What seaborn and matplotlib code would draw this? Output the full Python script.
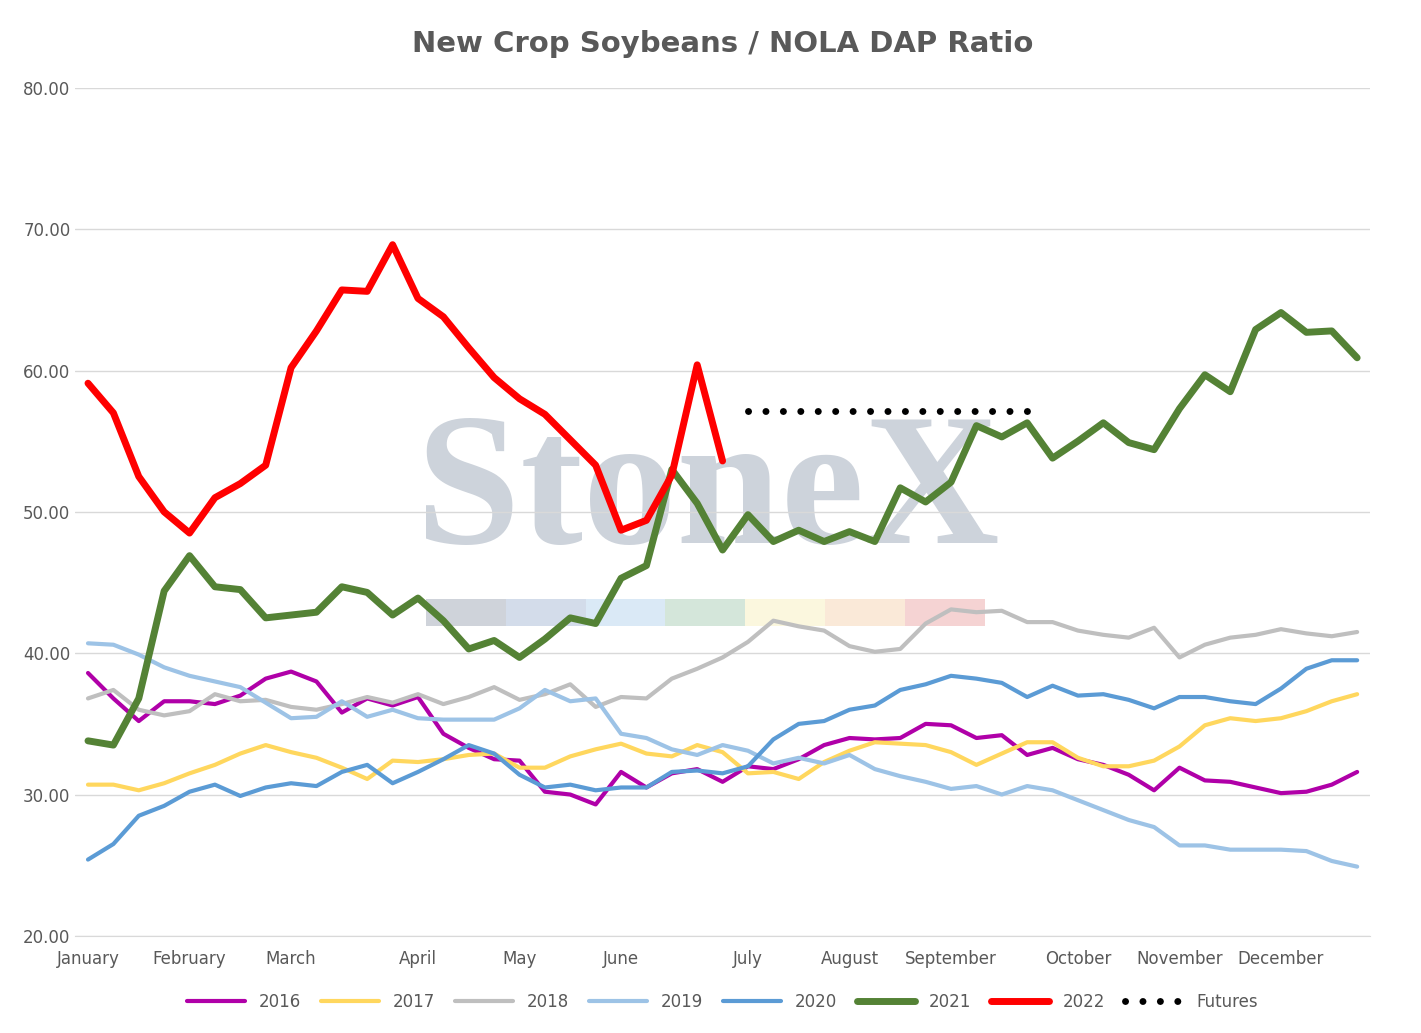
import seaborn as sns
import matplotlib.pyplot as plt
import numpy as np
from matplotlib.patches import Rectangle

sns.set_style('white')
plt.rcParams['font.family'] = ['DejaVu Sans']

data = {
    '2016': [38.6,36.8,35.2,36.6,36.6,36.4,37.0,38.2,38.7,38.0,35.8,36.8,36.3,36.9,34.3,33.3,32.5,32.4,30.2,30.0,29.3,31.6,30.5,31.5,31.8,30.9,32.0,31.8,32.5,33.5,34.0,33.9,34.0,35.0,34.9,34.0,34.2,32.8,33.3,32.5,32.1,31.4,30.3,31.9,31.0,30.9,30.5,30.1,30.2,30.7,31.6],
    '2017': [30.7,30.7,30.3,30.8,31.5,32.1,32.9,33.5,33.0,32.6,31.9,31.1,32.4,32.3,32.5,32.8,32.9,31.9,31.9,32.7,33.2,33.6,32.9,32.7,33.5,33.0,31.5,31.6,31.1,32.3,33.1,33.7,33.6,33.5,33.0,32.1,32.9,33.7,33.7,32.6,32.0,32.0,32.4,33.4,34.9,35.4,35.2,35.4,35.9,36.6,37.1],
    '2018': [36.8,37.4,36.0,35.6,35.9,37.1,36.6,36.7,36.2,36.0,36.4,36.9,36.5,37.1,36.4,36.9,37.6,36.7,37.1,37.8,36.2,36.9,36.8,38.2,38.9,39.7,40.8,42.3,41.9,41.6,40.5,40.1,40.3,42.1,43.1,42.9,43.0,42.2,42.2,41.6,41.3,41.1,41.8,39.7,40.6,41.1,41.3,41.7,41.4,41.2,41.5],
    '2019': [40.7,40.6,39.9,39.0,38.4,38.0,37.6,36.5,35.4,35.5,36.6,35.5,36.0,35.4,35.3,35.3,35.3,36.1,37.4,36.6,36.8,34.3,34.0,33.2,32.8,33.5,33.1,32.2,32.6,32.2,32.8,31.8,31.3,30.9,30.4,30.6,30.0,30.6,30.3,29.6,28.9,28.2,27.7,26.4,26.4,26.1,26.1,26.1,26.0,25.3,24.9],
    '2020': [25.4,26.5,28.5,29.2,30.2,30.7,29.9,30.5,30.8,30.6,31.6,32.1,30.8,31.6,32.5,33.5,32.9,31.4,30.5,30.7,30.3,30.5,30.5,31.6,31.7,31.5,32.0,33.9,35.0,35.2,36.0,36.3,37.4,37.8,38.4,38.2,37.9,36.9,37.7,37.0,37.1,36.7,36.1,36.9,36.9,36.6,36.4,37.5,38.9,39.5,39.5],
    '2021': [33.8,33.5,36.8,44.4,46.9,44.7,44.5,42.5,42.7,42.9,44.7,44.3,42.7,43.9,42.3,40.3,40.9,39.7,41.0,42.5,42.1,45.3,46.2,53.0,50.6,47.3,49.8,47.9,48.7,47.9,48.6,47.9,51.7,50.7,52.1,56.1,55.3,56.3,53.8,55.0,56.3,54.9,54.4,57.3,59.7,58.5,62.9,64.1,62.7,62.8,60.9],
    '2022': [59.1,57.0,52.5,50.0,48.5,51.0,52.0,53.3,60.2,62.8,65.7,65.6,68.9,65.1,63.8,61.6,59.5,58.0,56.9,55.1,53.3,48.7,49.4,52.6,60.4,53.6],
}
colors = {'2016': '#b000a8', '2017': '#ffd75e', '2018': '#bfbfbf', '2019': '#9dc3e6',
          '2020': '#5b9bd5', '2021': '#548235', '2022': '#ff0000'}
widths = {'2021': 5, '2022': 5}

fig = plt.figure(figsize=(14.21, 10.33), dpi=100)
ax = fig.add_axes([0.053, 0.094, 0.911, 0.821])

# watermark
ax.text(24.4, 51.0, 'StoneX', fontsize=135, family='Liberation Serif', fontweight='bold',
        color='#cdd3db', ha='center', va='center', zorder=0)
strip = ['#cfd3da', '#d3dcea', '#dae9f6', '#d4e6da', '#fbf7de', '#fae9d8', '#f5d3d3']
for i, c in enumerate(strip):
    ax.add_patch(Rectangle((13.3 + i * 3.15, 41.9), 3.15, 1.9, color=c, zorder=0, lw=0))

for k, v in data.items():
    sns.lineplot(x=np.arange(len(v)), y=v, ax=ax, color=colors[k], lw=widths.get(k, 3),
                 label=k, zorder=3 if k in widths else 2)

fut_x = np.arange(26, 38, 0.5)
ax.plot(fut_x, [57.1] * len(fut_x), color='black', lw=5, linestyle=(0, (0.01, 2.5)),
        dash_capstyle='round', label='Futures', zorder=3)

ax.set_xlim(-0.5, 50.5)
ax.set_ylim(20, 80)
ax.set_yticks(np.arange(20, 81, 10))
ax.set_yticklabels([f'{t:.2f}' for t in np.arange(20, 81, 10)], color='#595959', fontsize=12)
months = ['January', 'February', 'March', 'April', 'May', 'June', 'July', 'August',
          'September', 'October', 'November', 'December']
ax.set_xticks([0, 4, 8, 13, 17, 21, 26, 30, 34, 39, 43, 47])
ax.set_xticklabels(months, color='#595959', fontsize=12)
ax.tick_params(length=0)
ax.tick_params(axis='x', pad=10)
ax.grid(axis='y', color='#d9d9d9', lw=1)
for s in ['left', 'right', 'top']:
    ax.spines[s].set_visible(False)
ax.spines['bottom'].set_color('#d9d9d9')
ax.set_title('New Crop Soybeans / NOLA DAP Ratio', fontsize=21, fontweight='bold',
             color='#595959', pad=26)
ax.legend(loc='upper center', bbox_to_anchor=(0.5, -0.05), ncol=8, frameon=False,
          fontsize=12, handlelength=3.5, columnspacing=1.2, labelcolor='#595959')

fig.savefig('out.png', dpi=100)
